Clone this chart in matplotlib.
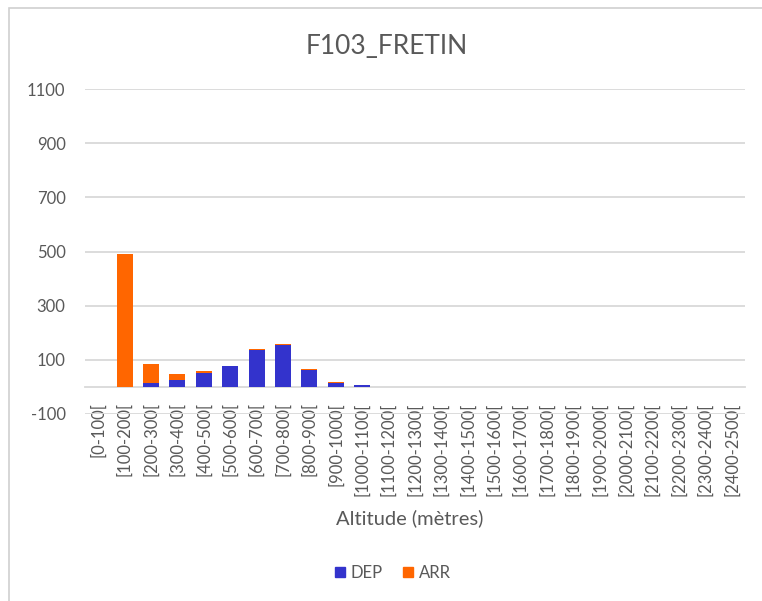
import matplotlib
matplotlib.use("Agg")
import matplotlib.pyplot as plt
from matplotlib.patches import Rectangle, Patch
import numpy as np

plt.rcParams['font.family'] = ['Lato', 'DejaVu Sans']
plt.rcParams['axes.unicode_minus'] = False

categories = ["[0-100[", "[100-200[", "[200-300[", "[300-400[", "[400-500[",
              "[500-600[", "[600-700[", "[700-800[", "[800-900[", "[900-1000[",
              "[1000-1100[", "[1100-1200[", "[1200-1300[", "[1300-1400[",
              "[1400-1500[", "[1500-1600[", "[1600-1700[", "[1700-1800[",
              "[1800-1900[", "[1900-2000[", "[2000-2100[", "[2100-2200[",
              "[2200-2300[", "[2300-2400[", "[2400-2500["]
dep = [0, 0, 15, 27, 52, 78, 136, 154, 62, 14, 7,
       0, 0, 0, 0, 0, 0, 0, 0, 0, 0, 0, 0, 0, 0]
arr = [0, 492, 70, 20, 6, 0, 5, 5, 5, 5, 0,
       0, 0, 0, 0, 0, 0, 0, 0, 0, 0, 0, 0, 0, 0]
y_ticks = [-100, 100, 300, 500, 700, 900, 1100]

title = "F103_FRETIN"
xlabel = "Altitude (mètres)"

blue = "#3333CC"
orange = "#FF6600"
text_col = "#595959"
grid_col = "#D9D9D9"

W, H = 762, 601
fig = plt.figure(figsize=(W / 100, H / 100), dpi=100)

# chart frame (continues past the right and bottom edges)
fig.patches.append(Rectangle((9 / W, -0.2), 1.5, 1.2 - 8 / H, transform=fig.transFigure,
                             fill=False, edgecolor="#D0D0D0", linewidth=1.2))

ax = fig.add_axes([85 / W, 1 - 414 / H, 660 / W, 325 / H])
x = np.arange(len(categories))
ax.bar(x, dep, width=0.6, color=blue, label="DEP", zorder=3)
ax.bar(x, arr, width=0.6, bottom=dep, color=orange, label="ARR", zorder=3)

ax.set_xlim(-0.5, len(categories) - 0.5)
ax.set_ylim(-100, 1100)
ax.set_yticks(y_ticks)
ax.yaxis.grid(True, color=grid_col, linewidth=1.3, zorder=0)
ax.set_axisbelow(True)

for s in ["top", "right", "left"]:
    ax.spines[s].set_visible(False)
ax.spines["bottom"].set_position(("data", 0))
ax.spines["bottom"].set_color(grid_col)
ax.spines["bottom"].set_linewidth(1.3)
ax.spines["bottom"].set_zorder(2)

ax.set_xticks(x)
ax.set_xticklabels(categories, rotation=90, fontsize=12, color=text_col)
ax.tick_params(axis="x", length=0, pad=11)
ax.tick_params(axis="y", length=0, pad=14, labelsize=12, labelcolor=text_col)

fig.text(387 / W, 1 - 46 / H, title, ha="center", va="center",
         fontsize=19, color=text_col)
fig.text(410 / W, 1 - 518 / H, xlabel, ha="center", va="center",
         fontsize=14.5, color=text_col)

handles = [Patch(color=blue, label="DEP"), Patch(color=orange, label="ARR")]
fig.legend(handles=handles, loc="center", bbox_to_anchor=(393 / W, 1 - 573 / H),
           ncol=2, frameon=False, fontsize=12, labelcolor=text_col,
           handlelength=0.6, handleheight=0.6, handletextpad=0.35, columnspacing=1.2)

fig.savefig("out.png", dpi=100)
